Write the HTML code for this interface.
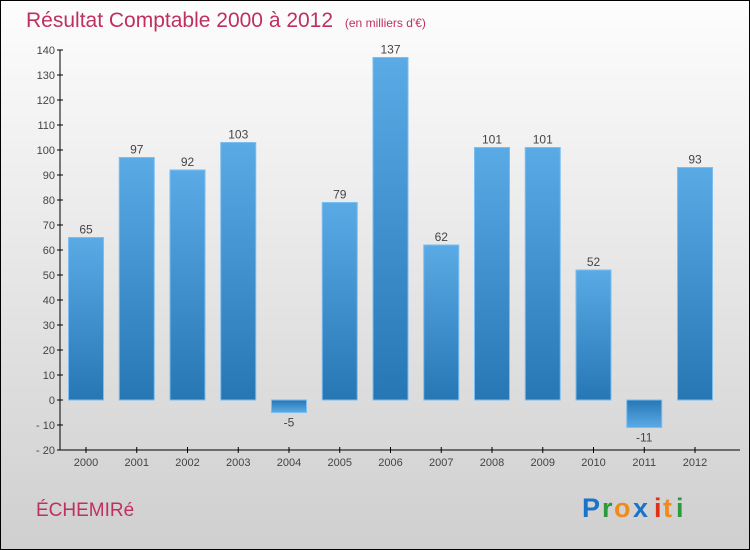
<!DOCTYPE html>
<html><head><meta charset="utf-8"><style>
body{margin:0}
#c{width:748px;height:548px;border:1px solid #000;background:linear-gradient(#fdfdfd,#cfcfcf);position:relative;font-family:"Liberation Sans",sans-serif;overflow:hidden}
</style></head><body>
<div id="c">
<svg width="748" height="548" viewBox="1 1 748 548" style="position:absolute;left:0;top:0">
<defs><linearGradient id="g" x1="0" y1="0" x2="0" y2="1"><stop offset="0" stop-color="#5aaae6"/><stop offset="1" stop-color="#2677b4"/></linearGradient>
<linearGradient id="gn" x1="0" y1="0" x2="0" y2="1"><stop offset="0" stop-color="#2677b4"/><stop offset="1" stop-color="#5aaae6"/></linearGradient></defs>
<text x="26" y="27" font-size="21" fill="#c0305e">Résultat Comptable 2000 à 2012 <tspan font-size="12" dx="6">(en milliers d'€)</tspan></text>
<g id="axes"></g><g id="bars"></g>
<text x="36" y="516" font-size="19" fill="#c0305e">ÉCHEMIRé</text>
<g font-size="27" font-weight="bold">
<text x="582" y="517" fill="#1a73c8">P</text><text x="602" y="517" fill="#2a9a3a">r</text><text x="614" y="517" fill="#f08a1a">o</text><text x="633" y="517" fill="#1a73c8">x</text><text x="654" y="517" fill="#e0301a">i</text><text x="663" y="517" fill="#f08a1a">t</text><text x="676" y="517" fill="#2a9a3a">i</text></g>
</svg></div>
<script>
const years=["2000","2001","2002","2003","2004","2005","2006","2007","2008","2009","2010","2011","2012"];
const values=[65,97,92,103,-5,79,137,62,101,101,52,-11,93];
const ticks=[-20,-10,0,10,20,30,40,50,60,70,80,90,100,110,120,130,140];
const NS="http://www.w3.org/2000/svg";
const y=v=>400-v*2.5, x=i=>86+i*50.75;
const ax=document.getElementById('axes'), bs=document.getElementById('bars');
function mk(t,a,p){const e=document.createElementNS(NS,t);for(const k in a)e.setAttribute(k,a[k]);p.appendChild(e);return e;}
const yl=mk('line',{x1:60,y1:50,x2:60,y2:450,stroke:'#000'},ax);


const xl=mk('line',{x1:60,y1:450,x2:740,y2:450,stroke:'#000'},ax);


ticks.forEach(t=>{mk('line',{x1:57,x2:63,y1:y(t),y2:y(t),stroke:'#000'},ax);
const tx=mk('text',{x:55,y:y(t)+4,'font-size':11,'text-anchor':'end',fill:'#444'},ax);tx.textContent=t<0?'- '+(-t):t;

});
years.forEach((yr,i)=>{mk('line',{x1:x(i),x2:x(i),y1:447,y2:453,stroke:'#000'},ax);
const tx=mk('text',{x:x(i),y:466,'font-size':11,'text-anchor':'middle',fill:'#444'},ax);tx.textContent=yr;


const v=values[i];const r=mk('rect',{x:x(i)-17.5,width:35,y:Math.min(y(v),y(0)),height:Math.abs(y(v)-y(0)),fill:v<0?'url(#gn)':'url(#g)',stroke:'#7bbdf0','stroke-width':1},bs);


const l=mk('text',{x:x(i),y:v<0?y(v)+14:y(v)-4,'font-size':12,'text-anchor':'middle',fill:'#444'},bs);l.textContent=v<0?'-'+(-v):v;

});
</script></body></html>
